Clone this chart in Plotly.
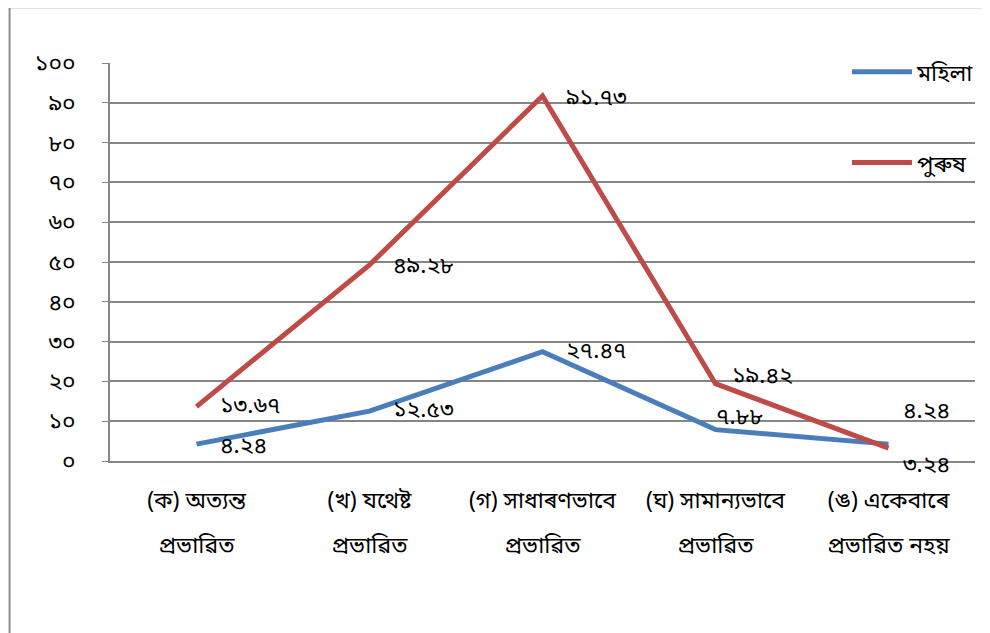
import plotly.graph_objects as go

cat_line1 = ["(ক) অত্যন্ত", "(খ) যথেষ্ট", "(গ) সাধাৰণভাবে", "(ঘ) সামান্যভাবে", "(ঙ) একেবাৰে"]
cat_line2 = ["প্ৰভাৱিত", "প্ৰভাৱিত", "প্ৰভাৱিত", "প্ৰভাৱিত", "প্ৰভাৱিত নহয়"]
female = [4.24, 12.53, 27.47, 7.88, 4.24]
male = [13.67, 49.28, 91.73, 19.42, 3.24]
yticks = [0, 10, 20, 30, 40, 50, 60, 70, 80, 90, 100]

categories = [a + " " + b for a, b in zip(cat_line1, cat_line2)]

BN = str.maketrans("0123456789", "০১২৩৪৫৬৭৮৯")


def bn(v):
    return str(v).translate(BN)


FONT = "Noto Sans Bengali, Vrinda, Noto Sans, DejaVu Sans, sans-serif"
FS = 23
BLUE = "#4A7EBB"
RED = "#BE4B48"
GRID = "#868686"

fig = go.Figure()
fig.add_trace(go.Scatter(x=categories, y=female, name="মহিলা", mode="lines",
                         line=dict(color=BLUE, width=5), legendgroup="f"))
fig.add_trace(go.Scatter(x=categories, y=male, name="পুৰুষ", mode="lines",
                         line=dict(color=RED, width=5), legendgroup="m"))
# carrier for the second line of the category labels
fig.add_trace(go.Scatter(x=categories, y=[None] * len(categories), xaxis="x2",
                         showlegend=False, hoverinfo="skip"))

# data label offsets (x, y) in px, Excel-style placement
f_off = [(21, -3), (21, 0), (21, 0), (-2, 12), (12, 32)]
m_off = [(21, 0), (21, -2), (21, -3), (14, 7), (12, -18)]
for vals, offs in ((female, f_off), (male, m_off)):
    for c, v, (dx, dy) in zip(categories, vals, offs):
        fig.add_annotation(x=c, y=v, text=bn(v), showarrow=False,
                           xanchor="left", yanchor="middle", xshift=dx, yshift=dy,
                           font=dict(size=FS, color="black", family=FONT))

# outer chart frame (left and top edges visible)
fig.add_shape(type="line", xref="paper", yref="paper",
              x0=-0.1161, x1=-0.1161, y0=1.14, y1=-0.45,
              line=dict(color="#8C8C8C", width=2))
fig.add_shape(type="line", xref="paper", yref="paper",
              x0=-0.1161, x1=1.05, y0=1.14, y1=1.14,
              line=dict(color="#8C8C8C", width=2))

fig.update_layout(
    width=982, height=625,
    margin=dict(l=102, r=10, t=55, b=172),
    plot_bgcolor="white", paper_bgcolor="white",
    font=dict(family=FONT, size=FS, color="black"),
    legend=dict(x=0.852, y=1.032, xanchor="left", yanchor="top",
                bgcolor="rgba(0,0,0,0)", tracegroupgap=58, itemwidth=60,
                traceorder="grouped", font=dict(size=FS)),
    showlegend=True,
    xaxis=dict(type="category", range=[-0.5, 4.5], showline=True, linecolor=GRID,
               linewidth=1.5, showgrid=False, ticks="",
               tickvals=categories, ticktext=cat_line1, ticklabelstandoff=18),
    xaxis2=dict(type="category", overlaying="x", matches="x", side="bottom",
                anchor="y", showline=False, showgrid=False, ticks="",
                tickvals=categories, ticktext=cat_line2, ticklabelstandoff=68),
)
fig.update_yaxes(range=[0, 100], tickvals=yticks, ticktext=[bn(t) for t in yticks],
                 showgrid=True, gridcolor=GRID, gridwidth=1.5,
                 showline=True, linecolor=GRID, linewidth=1.5,
                 ticks="outside", ticklen=6, tickcolor=GRID,
                 ticklabelstandoff=22, zeroline=False)

fig.write_html("out.html")
